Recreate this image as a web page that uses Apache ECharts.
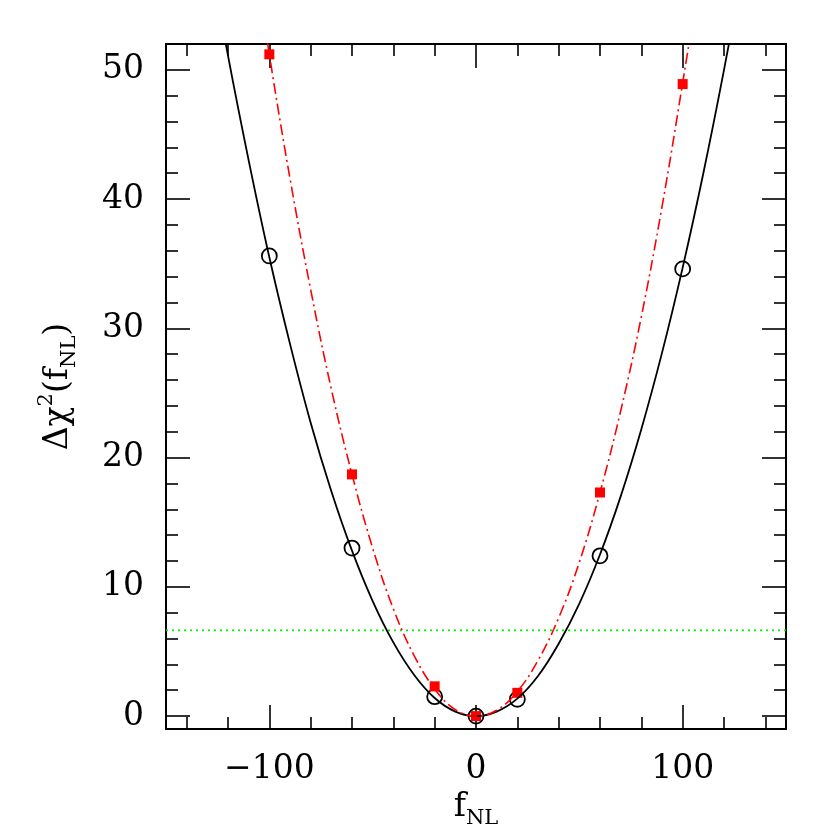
<!DOCTYPE html>
<html>
<head>
<meta charset="utf-8">
<script src="https://cdn.jsdelivr.net/npm/echarts@6/dist/echarts.min.js"></script>
<style>
  html, body { margin: 0; padding: 0; background: #fff; }
  #chart { width: 830px; height: 830px; }
</style>
</head>
<body>
<div id="chart"></div>
<script>
// measured points
const fnlPoints = [-100, -60, -20, 0, 20, 60, 100];
const chi2Black = [35.6, 13.0, 1.5, 0, 1.3, 12.4, 34.6];
const chi2Red = [51.2, 18.7, 2.3, 0, 1.8, 17.3, 48.9];

// fitted curves
const curveX = [-130, -120, -110, -100, -90, -80, -70, -60, -50, -40, -30, -20, -10, 0,
  10, 20, 30, 40, 50, 60, 70, 80, 90, 100, 110, 120, 130];
const curveBlack = [60.0, 51.1, 43.0, 35.5, 28.8, 22.7, 17.4, 12.8, 8.9, 5.7, 3.2, 1.4, 0.35, 0,
  0.35, 1.35, 3.1, 5.6, 8.7, 12.5, 17.0, 22.2, 28.1, 34.7, 42.0, 50.0, 58.6];
const curveRed = [86.0, 74.0, 61.9, 51.2, 41.6, 33.0, 25.3, 18.7, 13.0, 8.3, 4.7, 2.1, 0.5, 0,
  0.45, 1.9, 4.3, 7.6, 11.9, 17.3, 23.6, 30.9, 39.4, 49.0, 59.2, 70.5, 83.0];

// threshold line
const thresholdX = [-150, 150];
const thresholdY = 6.63;

// ticks
const xMajor = [-100, 0, 100];
const xMinor = [-140, -120, -80, -60, -40, -20, 20, 40, 60, 80, 120, 140];
const yMajor = [0, 10, 20, 30, 40, 50];
const yMinor = [2, 4, 6, 8, 12, 14, 16, 18, 22, 24, 26, 28, 32, 34, 36, 38, 42, 44, 46, 48, 52];

const FONT = 'DejaVu Serif';
const zip = (xs, ys) => xs.map((x, i) => [x, ys[i]]);

function xAx(pos, ticks, len, labels) {
  return {
    type: 'value', position: pos, min: -150, max: 150,
    axisLine: { show: true, onZero: false, lineStyle: { color: '#000', width: 2 } },
    axisTick: { show: true, inside: true, length: len, customValues: ticks, lineStyle: { color: '#000', width: 1.6 } },
    axisLabel: labels ? {
      show: true, customValues: ticks, margin: 24, color: '#000', fontFamily: FONT, fontSize: 33,
      formatter: v => String(v).replace('-', '\u2212')
    } : { show: false },
    splitLine: { show: false }
  };
}
function yAx(pos, ticks, len, labels) {
  return {
    type: 'value', position: pos, min: -1, max: 52,
    axisLine: { show: true, onZero: false, lineStyle: { color: '#000', width: 2 } },
    axisTick: { show: true, inside: true, length: len, customValues: ticks, lineStyle: { color: '#000', width: 1.6 } },
    axisLabel: labels ? {
      show: true, customValues: ticks, margin: 22, color: '#000', fontFamily: FONT, fontSize: 33
    } : { show: false },
    splitLine: { show: false }
  };
}

const xMain = xAx('bottom', xMajor, 24, true);
xMain.name = '{a|f}{s|NL}';
xMain.nameLocation = 'middle';
xMain.nameGap = 54;
xMain.nameTextStyle = {
  rich: {
    a: { fontFamily: FONT, fontSize: 33, color: '#000', lineHeight: 44 },
    s: { fontFamily: FONT, fontSize: 21, color: '#000', lineHeight: 16, verticalAlign: 'bottom' }
  }
};

const yMain = yAx('left', yMajor, 24, true);
yMain.name = '{a|\u0394\u03c7}{p|2}{a|(f}{s|NL}{a|)}';
yMain.nameLocation = 'middle';
yMain.nameGap = 86;
yMain.nameTextStyle = {
  rich: {
    a: { fontFamily: FONT, fontSize: 33, color: '#000', lineHeight: 44 },
    p: { fontFamily: FONT, fontSize: 21, color: '#000', lineHeight: 30, verticalAlign: 'top' },
    s: { fontFamily: FONT, fontSize: 21, color: '#000', lineHeight: 16, verticalAlign: 'bottom' }
  }
};

const chart = echarts.init(document.getElementById('chart'));
chart.setOption({
  animation: false,
  backgroundColor: '#fff',
  grid: { left: 166, right: 44, top: 44, bottom: 101, outerBoundsMode: 'none', containLabel: false },
  xAxis: [
    xMain,
    xAx('bottom', xMinor, 12, false),
    xAx('top', xMajor, 24, false),
    xAx('top', xMinor, 12, false)
  ],
  yAxis: [
    yMain,
    yAx('left', yMinor, 12, false),
    yAx('right', yMajor, 24, false),
    yAx('right', yMinor, 12, false)
  ],
  series: [
    {
      type: 'line', data: zip(thresholdX, thresholdX.map(() => thresholdY)),
      showSymbol: false, silent: true,
      lineStyle: { color: '#00ee00', width: 1.6, type: [2, 4] }
    },
    {
      type: 'line', data: zip(curveX, curveBlack), smooth: 0.4, showSymbol: false, clip: true,
      lineStyle: { color: '#000', width: 1.8 }
    },
    {
      type: 'line', data: zip(curveX, curveRed), smooth: 0.4, showSymbol: false, clip: true,
      lineStyle: { color: '#ff0000', width: 1.6, type: [11, 4, 2, 4] }
    },
    {
      type: 'scatter', data: zip(fnlPoints, chi2Black), symbol: 'circle', symbolSize: 15,
      itemStyle: { color: 'rgba(0,0,0,0)', borderColor: '#000', borderWidth: 1.8, opacity: 1 }
    },
    {
      type: 'scatter', data: zip(fnlPoints, chi2Red), symbol: 'rect', symbolSize: 10,
      itemStyle: { color: '#ff0000', opacity: 1 }
    }
  ]
});
</script>
</body>
</html>
